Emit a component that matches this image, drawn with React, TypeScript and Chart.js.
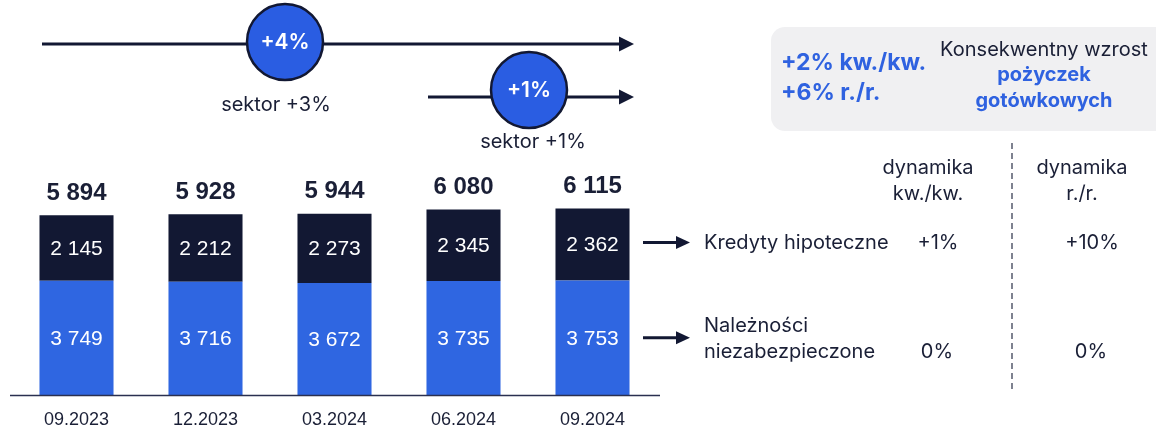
import React, { useEffect, useRef } from "react";
import { Chart, registerables } from "chart.js";

Chart.register(...registerables);

const categories = ["09.2023", "12.2023", "03.2024", "06.2024", "09.2024"];
const unsecured = [3749, 3716, 3672, 3735, 3753];
const mortgage = [2145, 2212, 2273, 2345, 2362];
const totals = [5894, 5928, 5944, 6080, 6115];

const seriesNames = ["Należności niezabezpieczone", "Kredyty hipoteczne"];
const qoq = ["0%", "+1%"];
const yoy = ["0%", "+10%"];

const DARK = "#121833";
const BLUE = "#2F66E1";
const CIRCLE = "#2A5DE2";
const TEXT = "#1A1F36";
const BLUE_TEXT = "#2F62E0";

const fmt = (v: number) => String(v).replace(/\B(?=(\d{3})+(?!\d))/g, " ");

function arrow(ctx: CanvasRenderingContext2D, x1: number, x2: number, y: number, head: number, half: number, lw: number) {
  ctx.save();
  ctx.strokeStyle = DARK;
  ctx.fillStyle = DARK;
  ctx.lineWidth = lw;
  ctx.beginPath();
  ctx.moveTo(x1, y);
  ctx.lineTo(x2 - head + 1, y);
  ctx.stroke();
  ctx.beginPath();
  ctx.moveTo(x2, y);
  ctx.lineTo(x2 - head, y - half);
  ctx.lineTo(x2 - head, y + half);
  ctx.closePath();
  ctx.fill();
  ctx.restore();
}

function circle(ctx: CanvasRenderingContext2D, cx: number, cy: number, r: number, label: string) {
  ctx.save();
  ctx.beginPath();
  ctx.arc(cx, cy, r, 0, Math.PI * 2);
  ctx.fillStyle = CIRCLE;
  ctx.fill();
  ctx.lineWidth = 2.5;
  ctx.strokeStyle = DARK;
  ctx.stroke();
  ctx.fillStyle = "#ffffff";
  ctx.font = "600 21px Inter";
  ctx.textAlign = "center";
  ctx.textBaseline = "middle";
  ctx.fillText(label, cx, cy + 1);
  ctx.restore();
}

function text(ctx: CanvasRenderingContext2D, s: string, x: number, y: number, font: string, color: string, align: CanvasTextAlign = "center") {
  ctx.save();
  ctx.font = font;
  ctx.fillStyle = color;
  ctx.textAlign = align;
  ctx.textBaseline = "middle";
  ctx.fillText(s, x, y);
  ctx.restore();
}

const overlay = {
  id: "overlay",
  afterDatasetsDraw(chart: any) {
    const ctx: CanvasRenderingContext2D = chart.ctx;
    const area = chart.chartArea;
    // axis line
    ctx.save();
    ctx.strokeStyle = "#2a3050";
    ctx.lineWidth = 1.5;
    ctx.beginPath();
    ctx.moveTo(10, area.bottom + 0.5);
    ctx.lineTo(660, area.bottom + 0.5);
    ctx.stroke();
    ctx.restore();

    // segment labels
    chart.data.datasets.forEach((ds: any, di: number) => {
      const meta = chart.getDatasetMeta(di);
      meta.data.forEach((bar: any, i: number) => {
        const yc = (bar.y + bar.base) / 2;
        text(ctx, fmt(ds.data[i]), bar.x, yc + 1, "21px 'Liberation Sans'", "#ffffff");
      });
    });
    // totals
    const topMeta = chart.getDatasetMeta(1);
    topMeta.data.forEach((bar: any, i: number) => {
      text(ctx, fmt(totals[i]), bar.x, bar.y - 22, "bold 24px 'Liberation Sans'", TEXT);
    });

    // right-side series labels with arrows
    const lastTop = topMeta.data[topMeta.data.length - 1];
    const lastBot = chart.getDatasetMeta(0).data[topMeta.data.length - 1];
    const yTop = (lastTop.y + lastTop.base) / 2 - 2;
    const yBot = (lastBot.y + lastBot.base) / 2;
    arrow(ctx, 643, 690, yTop, 14, 6.5, 3);
    arrow(ctx, 643, 690, yBot, 14, 6.5, 3);
    const f = "20px Inter";
    text(ctx, seriesNames[1], 704, yTop, f, TEXT, "left");
    text(ctx, "Należności", 704, yBot - 12, f, TEXT, "left");
    text(ctx, "niezabezpieczone", 704, yBot + 14, f, TEXT, "left");
    text(ctx, qoq[1], 938, yTop, f, TEXT);
    text(ctx, yoy[1], 1092, yTop, f, TEXT);
    text(ctx, qoq[0], 937, yBot + 14, f, TEXT);
    text(ctx, yoy[0], 1091, yBot + 14, f, TEXT);
    text(ctx, "dynamika", 928, 168, f, TEXT);
    text(ctx, "kw./kw.", 928, 194, f, TEXT);
    text(ctx, "dynamika", 1082, 168, f, TEXT);
    text(ctx, "r./r.", 1082, 194, f, TEXT);

    // dashed divider
    ctx.save();
    ctx.strokeStyle = "#3a3f55";
    ctx.lineWidth = 1.3;
    ctx.setLineDash([6, 4]);
    ctx.beginPath();
    ctx.moveTo(1012, 143);
    ctx.lineTo(1012, 392);
    ctx.stroke();
    ctx.restore();

    // top arrows and circles
    arrow(ctx, 42, 634, 44, 15, 7.5, 3);
    circle(ctx, 285, 42, 38, "+4%");
    text(ctx, "sektor +3%", 276, 105, f, TEXT);
    arrow(ctx, 428, 634, 97, 15, 7.5, 3);
    circle(ctx, 529, 90, 38, "+1%");
    text(ctx, "sektor +1%", 533, 142, f, TEXT);

    // info box
    ctx.save();
    ctx.fillStyle = "#F0F0F2";
    ctx.beginPath();
    (ctx as any).roundRect(771, 27, 420, 104, 14);
    ctx.fill();
    ctx.restore();
    text(ctx, "+2% kw./kw.", 781, 63, "bold 23px Inter", BLUE_TEXT, "left");
    text(ctx, "+6% r./r.", 781, 93, "bold 23px Inter", BLUE_TEXT, "left");
    text(ctx, "Konsekwentny wzrost", 1044, 50, "20px Inter", TEXT);
    text(ctx, "pożyczek", 1044, 75, "bold 20px Inter", BLUE_TEXT);
    text(ctx, "gotówkowych", 1044, 101, "bold 20px Inter", BLUE_TEXT);
  },
};

export default function App() {
  const ref = useRef<HTMLCanvasElement>(null);
  useEffect(() => {
    if (!ref.current) return;
    const chart = new Chart(ref.current, {
      type: "bar",
      data: {
        labels: categories,
        datasets: [
          { label: seriesNames[0], data: unsecured, backgroundColor: BLUE, barPercentage: 0.574, categoryPercentage: 1 },
          { label: seriesNames[1], data: mortgage, backgroundColor: DARK, barPercentage: 0.574, categoryPercentage: 1 },
        ],
      },
      options: {
        animation: false,
        responsive: false,
        layout: { padding: { left: 12, right: 499, top: 29, bottom: 0 } },
        plugins: { legend: { display: false }, tooltip: { enabled: false } },
        scales: {
          x: {
            stacked: true,
            grid: { display: false, drawTicks: false },
            border: { display: false },
            ticks: { font: { family: "'Liberation Sans'", size: 18 }, color: TEXT, padding: 14 },
            afterFit: (scale: any) => {
              scale.height = 36;
            },
          },
          y: { stacked: true, display: false, min: 0, max: 12000 },
        },
      },
      plugins: [overlay],
    });
    return () => chart.destroy();
  }, []);
  return (
    <div style={{ position: "fixed", left: 0, top: 0, width: 1156, height: 431, background: "#fff" }}>
      <canvas ref={ref} width={1156} height={431} />
    </div>
  );
}
